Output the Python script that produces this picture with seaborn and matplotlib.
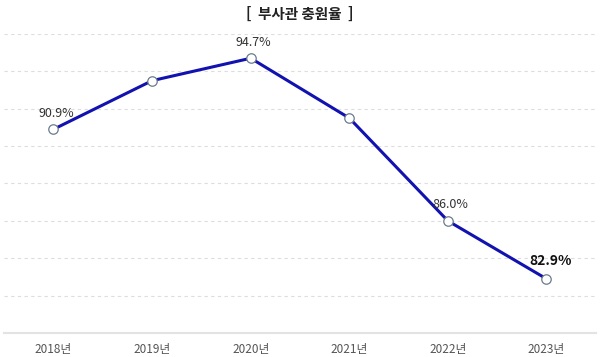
import pandas as pd
import matplotlib
matplotlib.use('Agg')
import matplotlib.pyplot as plt
import seaborn as sns

# 데이터
years = ['2018년', '2019년', '2020년', '2021년', '2022년', '2023년']
rates = [90.9, 93.5, 94.7, 91.5, 86.0, 82.9]
shown = [True, False, True, False, True, True]   # 값 라벨 표시 여부
grid_levels = [82, 84, 86, 88, 90, 92, 94, 96]

sns.set_theme(style='white')
plt.rcParams['font.family'] = ['Noto Sans CJK KR', 'DejaVu Sans']

df = pd.DataFrame({'year': years, 'rate': rates})

fig = plt.figure(figsize=(6.0, 3.57), dpi=100)
ax = fig.add_axes([0.007, 0.067, 0.986, 0.838])

for g in grid_levels:
    ax.axhline(g, color='#dddddd', lw=0.8, ls=(0, (3, 3)), zorder=0)

sns.lineplot(data=df, x='year', y='rate', ax=ax, color='#1212b0', lw=2.2,
             marker='o', markersize=6.8, markerfacecolor='white',
             markeredgecolor='#6b7b8c', markeredgewidth=0.9, sort=False)

for i, (v, s) in enumerate(zip(rates, shown)):
    if not s:
        continue
    if i == len(rates) - 1:
        ax.annotate(f'{v:.1f}%', (i, v), xytext=(3, 8), textcoords='offset points',
                    ha='center', va='bottom', fontsize=10, fontweight='bold', color='#111111')
    else:
        ax.annotate(f'{v:.1f}%', (i, v), xytext=(2, 7), textcoords='offset points',
                    ha='center', va='bottom', fontsize=9, color='#333333')

ax.set_xlim(-0.5, 5.5)
ax.set_ylim(80, 96)
ax.set_yticks([])
ax.set_xlabel('')
ax.set_ylabel('')
ax.tick_params(axis='x', length=0, labelsize=8.5, labelcolor='#555555', pad=7)
for side in ['top', 'right', 'left']:
    ax.spines[side].set_visible(False)
ax.spines['bottom'].set_color('#e3e3e3')
ax.spines['bottom'].set_linewidth(1.5)

fig.text(0.5, 0.962, '[  부사관 충원율  ]', ha='center', va='center',
         fontsize=10.5, fontweight='bold', color='#222222')

fig.savefig('out.png', dpi=100, facecolor='white')
